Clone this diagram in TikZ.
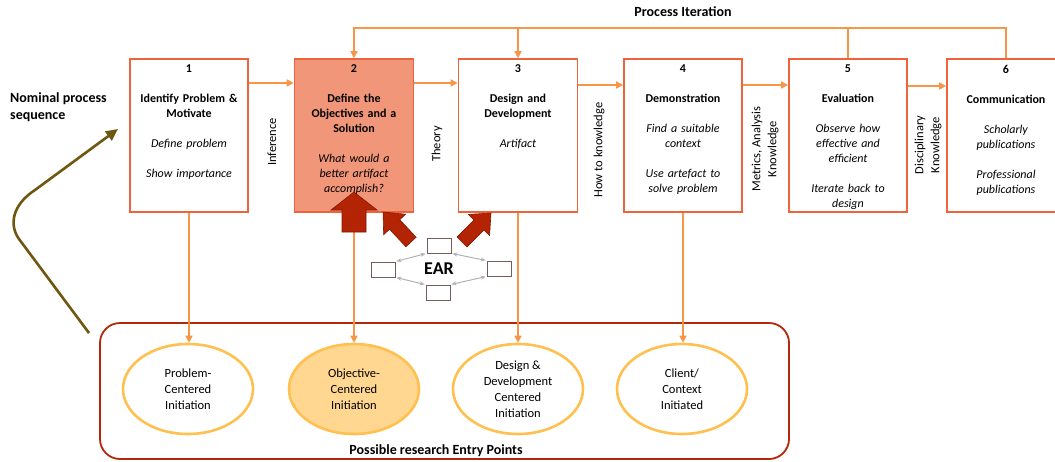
\documentclass[tikz,border=0pt]{standalone}
\usepackage{fontspec}
\setmainfont{Carlito}
\usetikzlibrary{arrows.meta,shapes.geometric}

\definecolor{boxline}{RGB}{237,100,60}
\definecolor{flowc}{RGB}{247,150,70}
\definecolor{boxfill}{RGB}{242,150,122}
\definecolor{blockred}{RGB}{178,36,4}
\definecolor{blockedge}{RGB}{130,25,0}
\definecolor{ringc}{RGB}{255,192,80}
\definecolor{ringfill}{RGB}{255,215,145}
\definecolor{framec}{RGB}{180,40,10}
\definecolor{olive}{RGB}{110,88,15}
\definecolor{earbox}{RGB}{120,92,92}
\definecolor{eargray}{RGB}{178,178,178}

\tikzset{
  stagebox/.style={draw=boxline, line width=1.6pt, minimum width=118pt, minimum height=153pt, inner sep=0pt},
  stagetext/.style={anchor=north, inner sep=0pt, text width=112pt, align=center,
    font=\fontsize{12}{15}\selectfont},
  flow/.style={draw=flowc, line width=1.5pt, -{Triangle[length=7pt,width=7pt]}},
  flowline/.style={draw=flowc, line width=1.5pt},
  sidelabel/.style={rotate=90, align=center, font=\fontsize{12.5}{16}\selectfont},
  entry/.style={ellipse, draw=ringc, line width=2.6pt, minimum width=130pt, minimum height=90pt,
    inner sep=0pt, align=center, font=\fontsize{12.5}{16}\selectfont},
  earnode/.style={draw=earbox, line width=0.8pt, fill=white, minimum width=24pt, minimum height=15pt, inner sep=0pt},
  earlink/.style={draw=eargray, line width=1pt, {Stealth[length=5pt,width=4pt]}-{Stealth[length=5pt,width=4pt]}, shorten <=1pt, shorten >=1pt},
  blockarrow/.style={fill=blockred, draw=blockedge, line width=0.6pt},
}

\begin{document}
\begin{tikzpicture}[x=1pt, y=-1pt]
\useasboundingbox (0,0) rectangle (1055,461);

% stages of the nominal sequence
\node[stagebox] (b1) at (189,135.5) {};
\node[stagebox, fill=boxfill, minimum width=119pt] (b2) at (354,135.5) {};
\node[stagebox, minimum width=119pt] (b3) at (518,135.5) {};
\node[stagebox] (b4) at (683,135.5) {};
\node[stagebox] (b5) at (848,135.5) {};
\node[stagebox] (b6) at (1006,135.5) {};

\node[stagetext] (t1) at ([yshift=-6.5pt]b1.north) {\textbf{1}\\[15pt]\textbf{Identify Problem \&}\\\textbf{Motivate}\\[15pt]\textit{Define problem}\\[15pt]\textit{Show importance}};
\node[stagetext] (t2) at ([yshift=-6.5pt]b2.north) {\textbf{2}\\[15pt]\textbf{Define the}\\\textbf{Objectives and a}\\\textbf{Solution}\\[15pt]\textit{What would a}\\\textit{better artifact}\\\textit{accomplish?}};
\node[stagetext] (t3) at ([yshift=-6.5pt]b3.north) {\textbf{3}\\[15pt]\textbf{Design and}\\\textbf{Development}\\[15pt]\textit{Artifact}};
\node[stagetext] (t4) at ([yshift=-6.5pt]b4.north) {\textbf{4}\\[15pt]\textbf{Demonstration}\\[15pt]\textit{Find a suitable}\\\textit{context}\\[15pt]\textit{Use artefact to}\\\textit{solve problem}};
\node[stagetext] (t5) at ([yshift=-6.5pt]b5.north) {\textbf{5}\\[15pt]\textbf{Evaluation}\\[15pt]\textit{Observe how}\\\textit{effective and}\\\textit{efficient}\\[15pt]\textit{Iterate back to}\\\textit{design}};
\node[stagetext] (t6) at ([yshift=-6.5pt]b6.north) {\textbf{6}\\[15pt]\textbf{Communication}\\[15pt]\textit{Scholarly}\\\textit{publications}\\[15pt]\textit{Professional}\\\textit{publications}};

% sequence arrows
\draw[flow] ([yshift=52.5pt]b1.east) -- ([yshift=52.5pt]b2.west);
\draw[flow] ([yshift=52.5pt]b2.east) -- ([yshift=52.5pt]b3.west);
\draw[flow] ([yshift=50.5pt]b3.east) -- ([yshift=50.5pt]b4.west);
\draw[flow] ([yshift=50.5pt]b4.east) -- ([yshift=50.5pt]b5.west);
\draw[flow] ([yshift=49.5pt]b5.east) -- ([yshift=49.5pt]b6.west);

% knowledge labels between stages
\node[sidelabel] (l1) at (272,142) {Inference};
\node[sidelabel] (l2) at (437,144) {Theory};
\node[sidelabel] (l3) at (599,150) {How to knowledge};
\node[sidelabel] (l4) at (765,149) {Metrics, Analysis\\Knowledge};
\node[sidelabel] (l5) at (928,145) {Disciplinary\\Knowledge};

% process iteration loop
\node[font=\bfseries\fontsize{14}{16}\selectfont] (pi) at (683,12) {Process Iteration};
\coordinate (top) at (0,28);
\draw[flow] (b6.north) -- (b6.north |- top) -- (b2.north |- top) -- (b2.north);
\draw[flow] (b3.north |- top) -- (b3.north);
\draw[flowline] (b5.north) -- (b5.north |- top);

% nominal sequence note and its arrow
\node[anchor=west, align=left, inner sep=0pt, font=\bfseries\fontsize{14}{17}\selectfont] (nps) at (10,107.5) {Nominal process\\sequence};
\coordinate (oliveend) at (89,333);
\coordinate (olivetip) at (118,129);
\draw[olive, line width=2.6pt, line join=round, -{Triangle[length=12pt,width=11pt]}]
  (oliveend) -- (19,239) .. controls (9,225) and (12,205) .. (35,190) -- (olivetip);

% entry points frame
\node[draw=framec, line width=1.8pt, rounded corners=20pt, minimum width=689pt, minimum height=136pt, inner sep=0pt] (frame) at (444.5,391) {};
\node[font=\bfseries\fontsize{14}{16}\selectfont] (pep) at (436,451) {Possible research Entry Points};

\node[entry] (c1) at (188,389) {Problem-\\Centered\\Initiation};
\node[entry, fill=ringfill] (c2) at (354,389) {Objective-\\Centered\\Initiation};
\node[entry] (c3) at (518,389) {Design \&\\Development\\Centered\\Initiation};
\node[entry] (c4) at (682,389) {Client/\\Context\\Initiated};

\draw[flow] (b1.south) -- (b1.south |- c1.north);
\draw[flow] (b2.south) -- (b2.south |- c2.north);
\draw[flow] (b3.south) -- (b3.south |- c3.north);
\draw[flow] (b4.south) -- (b4.south |- c4.north);

% EAR cycle
\node[earnode] (e1) at (439,245.5) {};
\node[earnode] (e2) at (383,269.5) {};
\node[earnode] (e3) at (499,268.5) {};
\node[earnode] (e4) at (438,292.5) {};
\node[font=\bfseries\fontsize{18}{20}\selectfont] (ear) at (439,269) {EAR};
\draw[earlink] (e1.south west) -- (e2.north east);
\draw[earlink] (e1.south east) -- (e3.north west);
\draw[earlink] (e4.north west) -- (e2.south east);
\draw[earlink] (e4.north east) -- (e3.south west);

% block arrows feeding stages 2 and 3
\path[blockarrow] (342,232) -- (342,210) -- (331,210) -- (354,192) -- (377,210) -- (366,210) -- (366,232) -- cycle;
\begin{scope}[shift={(411,242)}, rotate=133]
  \path[blockarrow] (0,-7) -- (24,-7) -- (24,-15) -- (41,0) -- (24,15) -- (24,7) -- (0,7) -- cycle;
\end{scope}
\begin{scope}[shift={(462,242)}, rotate=45]
  \path[blockarrow] (0,-7) -- (24,-7) -- (24,-15) -- (41,0) -- (24,15) -- (24,7) -- (0,7) -- cycle;
\end{scope}
\end{tikzpicture}
\end{document}
